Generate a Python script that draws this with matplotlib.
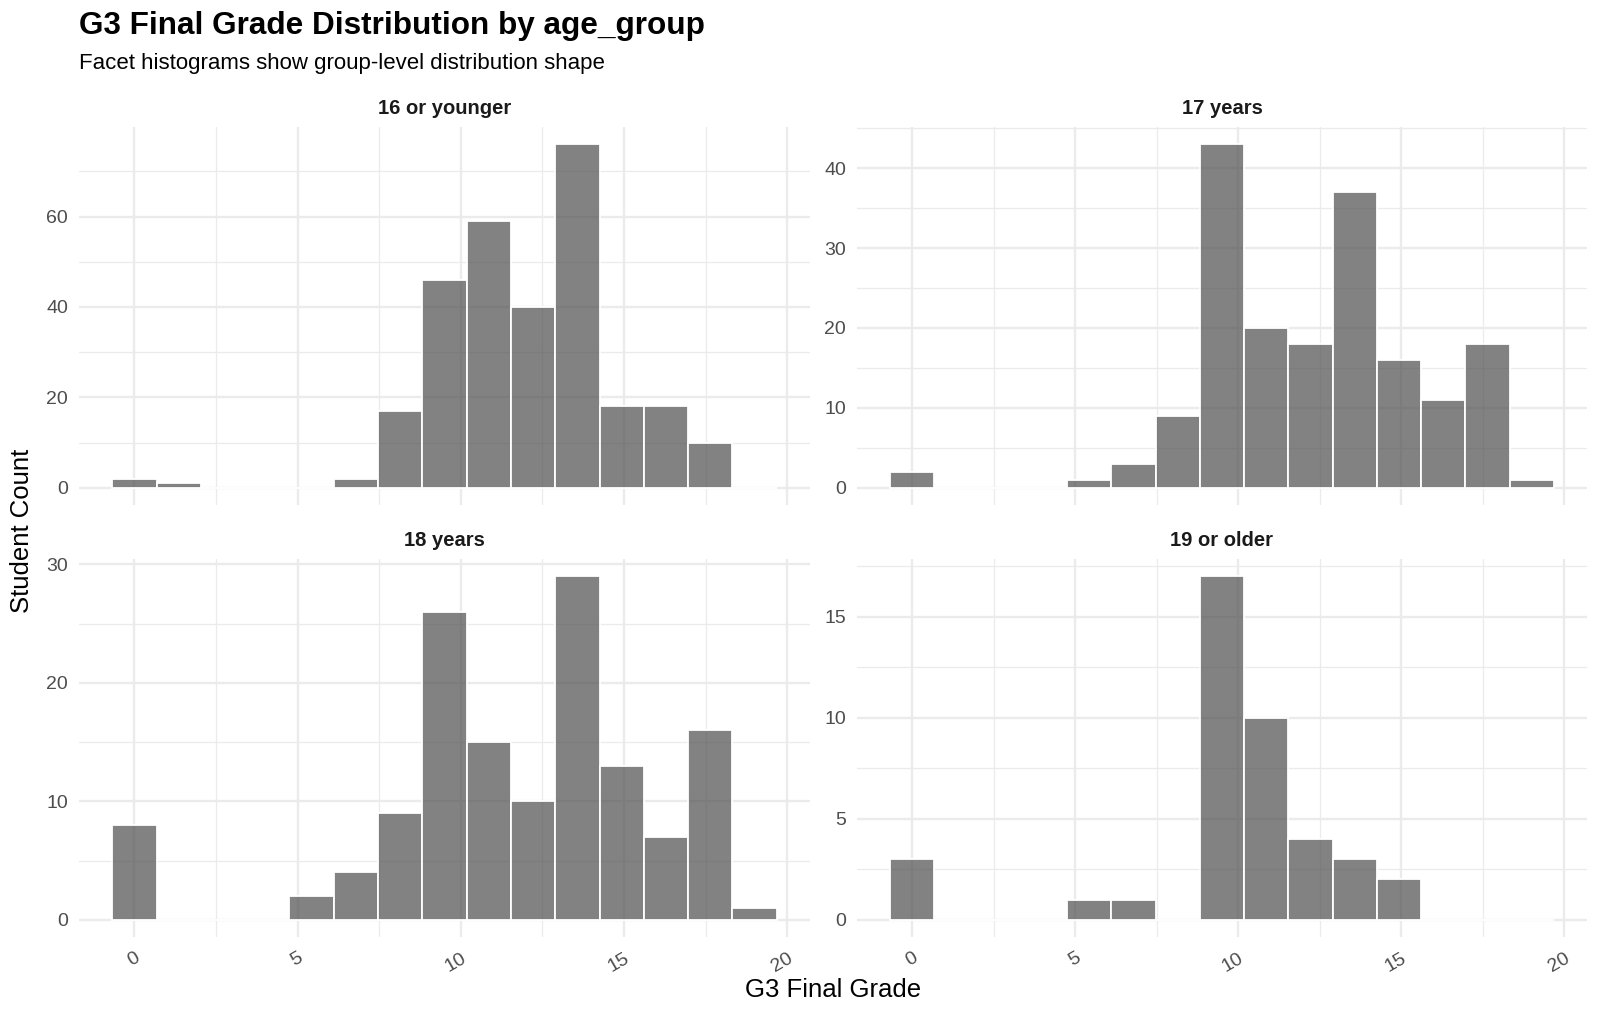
"""
G3 final grade histograms, one facet per age group
"""

import matplotlib.pyplot as plt
import numpy as np

# 15 bins over 0..19, ggplot style (bin centres at k * 19/14)
n_bins = 15
bin_width = 19 / 14
bin_centres = np.arange(n_bins) * bin_width

groups = ['16 or younger', '17 years', '18 years', '19 or older']
counts_16 = [2, 1, 0, 0, 0, 2, 17, 46, 59, 40, 76, 18, 18, 10, 0]
counts_17 = [2, 0, 0, 0, 1, 3, 9, 43, 20, 18, 37, 16, 11, 18, 1]
counts_18 = [8, 0, 0, 0, 2, 4, 9, 26, 15, 10, 29, 13, 7, 16, 1]
counts_19 = [3, 0, 0, 0, 1, 1, 0, 17, 10, 4, 3, 2, 0, 0, 0]
all_counts = [counts_16, counts_17, counts_18, counts_19]

y_steps = [20, 10, 10, 5]
x_ticks = [0, 5, 10, 15, 20]

title = 'G3 Final Grade Distribution by age_group'
subtitle = 'Facet histograms show group-level distribution shape'
x_label = 'G3 Final Grade'
y_label = 'Student Count'

plt.rcParams['font.family'] = ['Liberation Sans', 'DejaVu Sans']

W, H = 1600, 1018
fig = plt.figure(figsize=(W / 100, H / 100), dpi=100)

grid_col = '#ebebeb'
bar_face = (0.30, 0.30, 0.30, 0.70)

# panel boxes in pixels: left, top, right, bottom
boxes = [(79, 127, 810, 505), (857, 127, 1587, 505),
         (79, 559, 810, 937), (857, 559, 1587, 937)]

x_lo = -bin_width / 2
x_hi = 19 + bin_width / 2
x_pad = (x_hi - x_lo) * 0.05

for i, (name, counts) in enumerate(zip(groups, all_counts)):
    l, t, r, b = boxes[i]
    ax = fig.add_axes([l / W, 1 - b / H, (r - l) / W, (b - t) / H])
    ax.set_facecolor('white')
    for s in ax.spines.values():
        s.set_visible(False)

    ymax = max(counts)
    top = ymax * 1.05
    ax.set_xlim(x_lo - x_pad, x_hi + x_pad)
    ax.set_ylim(-ymax * 0.05, top)

    step = y_steps[i]
    ax.set_yticks(np.arange(0, top + 1e-9, step))
    ax.set_yticks(np.arange(step / 2, top, step), minor=True)
    ax.set_xticks(x_ticks)
    ax.set_xticks([2.5, 7.5, 12.5, 17.5], minor=True)

    ax.grid(which='major', color=grid_col, lw=1.7)
    ax.grid(which='minor', color=grid_col, lw=0.9)
    ax.set_axisbelow(True)

    ax.bar(bin_centres, counts, width=bin_width, facecolor=bar_face,
           edgecolor='white', linewidth=1.3)

    ax.tick_params(which='both', length=0)
    ax.tick_params(axis='y', labelsize=14, labelcolor='#4d4d4d', pad=8)
    if i >= 2:
        ax.tick_params(axis='x', labelsize=14, labelcolor='#4d4d4d', pad=9)
        for lab in ax.get_xticklabels():
            lab.set_rotation(30)
            lab.set_ha('right')
            lab.set_va('top')
            lab.set_rotation_mode('anchor')
    else:
        ax.tick_params(axis='x', labelbottom=False)

    fig.text((l + r) / 2 / W, 1 - (t - 19) / H, name, ha='center', va='center',
             fontsize=14.5, fontweight='bold', color='#1a1a1a')

fig.text(79 / W, 1 - 26 / H, title, ha='left', va='center',
         fontsize=22.7, fontweight='bold')
fig.text(79 / W, 1 - 63 / H, subtitle, ha='left', va='center', fontsize=16)
fig.text(833 / W, 1 - 990 / H, x_label, ha='center', va='center', fontsize=18.5)
fig.text(22 / W, 1 - 531 / H, y_label, ha='center', va='center', fontsize=18.5,
         rotation=90)

fig.savefig('out.png', dpi=100, facecolor='white')
